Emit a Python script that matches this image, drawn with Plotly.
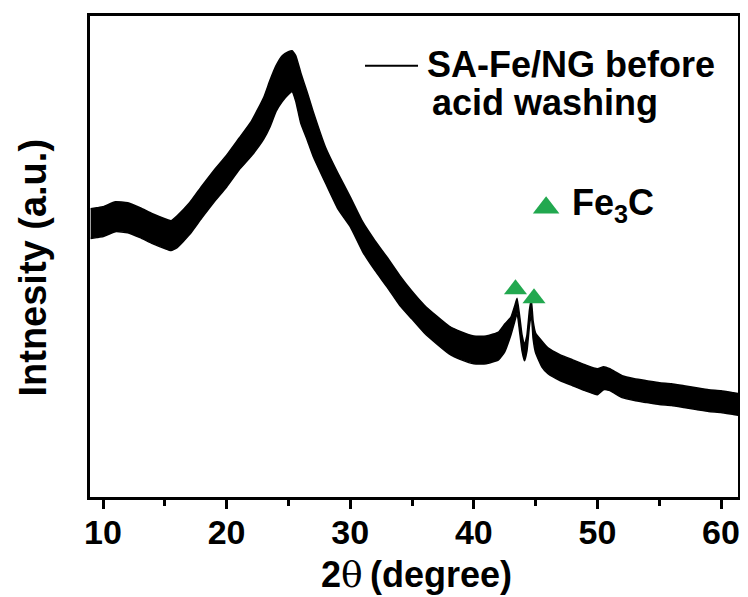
import plotly.graph_objects as go

# --- data (intensity in arbitrary units) ---
two_theta = [9.0, 9.5, 10, 11, 12, 13, 14, 15, 15.5, 16,
             17, 18, 19, 20, 21, 22, 23, 23.5, 24, 24.5,
             25, 25.3, 25.6, 26, 26.5, 27, 28, 29, 30, 31,
             32, 33, 34, 35, 36, 37, 38, 39, 40, 41,
             42, 42.5, 43, 43.3, 43.5, 43.7, 43.9, 44.1, 44.3, 44.5,
             44.65, 44.8, 45.0, 45.5, 46, 47, 48, 49, 50, 50.5,
             51, 52, 53, 54, 55, 56, 57, 58, 59, 60,
             61, 62]
band_top = [290, 291, 292, 297, 296, 291, 285, 280, 278, 283,
            296, 313, 329, 344, 361, 378, 402, 419, 434, 444,
            448, 449, 444, 427, 408, 388, 352, 326, 302, 277,
            258, 241, 223, 207, 193, 182, 172, 166, 162, 162,
            166, 174, 181, 192, 200, 183, 163, 153, 163, 188,
            199, 177, 165, 157, 150, 143, 138, 133, 129, 131,
            129, 122, 119, 117, 115, 114, 112, 110, 108, 107,
            105, 103]
band_bottom = [260, 261, 262, 267, 266, 261, 255, 250, 248, 251,
               264, 281, 297, 312, 329, 343, 360, 372, 388, 398,
               405, 408, 398, 376, 360, 343, 316, 290, 272, 247,
               228, 211, 193, 179, 165, 154, 144, 138, 134, 134,
               138, 146, 163, 176, 185, 167, 147, 137, 147, 172,
               184, 159, 145, 131, 124, 117, 112, 107, 103, 108,
               107, 100, 97, 95, 93, 92, 90, 88, 86, 85,
               83, 81]

fe3c_x = [43.37, 44.87]
fe3c_y = [209, 200]
fe3c_key_x = [45.85]
fe3c_key_y = [291]

x_ticks = [10, 20, 30, 40, 50, 60]
x_minor_ticks = [15, 25, 35, 45, 55]
series_name = "SA-Fe/NG before acid washing"

GREEN = "#22A84F"
FONT = "Liberation Sans, Arial, sans-serif"

fig = go.Figure()
fig.add_trace(go.Scatter(x=two_theta, y=band_bottom, mode="lines", showlegend=False,
                         line=dict(color="black", width=1.5, shape="spline", smoothing=0.4),
                         hoverinfo="skip"))
fig.add_trace(go.Scatter(x=two_theta, y=band_top, mode="lines", name=series_name,
                         fill="tonexty", fillcolor="black", showlegend=False,
                         line=dict(color="black", width=1.5, shape="spline", smoothing=0.4)))
fig.add_trace(go.Scatter(x=fe3c_x, y=fe3c_y, mode="markers", name="Fe3C",
                         marker=dict(symbol="triangle-up", size=20, color=GREEN),
                         showlegend=False))
fig.add_trace(go.Scatter(x=fe3c_key_x, y=fe3c_key_y, mode="markers", showlegend=False,
                         marker=dict(symbol="triangle-up", size=23, color=GREEN)))

fig.update_layout(
    width=740, height=589,
    margin=dict(l=82, r=10, t=5, b=100),
    paper_bgcolor="white", plot_bgcolor="white",
    font=dict(family=FONT, color="black"),
    xaxis=dict(range=[8.948, 61.374], tickvals=x_ticks, ticktext=[str(v) for v in x_ticks],
               ticks="outside", ticklen=9, tickwidth=3, tickcolor="black",
               ticklabelstandoff=-6,
               tickfont=dict(family=FONT, size=34, weight="bold", color="black"),
               showline=True, linewidth=3, linecolor="black", mirror=True,
               showgrid=False, zeroline=False,
               minor=dict(tickvals=x_minor_ticks, ticks="outside", ticklen=6,
                          tickwidth=3, tickcolor="black")),
    yaxis=dict(range=[0, 484], showticklabels=False, ticks="",
               showline=True, linewidth=3, linecolor="black", mirror=True,
               showgrid=False, zeroline=False),
)

# legend line sample
fig.add_shape(type="line", xref="paper", yref="paper", x0=0.4244, x1=0.5062,
              y0=0.8967, y1=0.8967, line=dict(color="black", width=2))
fig.add_annotation(xref="paper", yref="paper", x=0.517, y=0.852, xanchor="left",
                   yanchor="bottom", showarrow=False, text="<b>SA-Fe/NG before</b>",
                   font=dict(family=FONT, size=36, color="black"))
fig.add_annotation(xref="paper", yref="paper", x=0.5247, y=0.774, xanchor="left",
                   yanchor="bottom", showarrow=False, text="<b>acid washing</b>",
                   font=dict(family=FONT, size=36, color="black"))
fig.add_annotation(xref="paper", yref="paper", x=0.7407, y=0.608, xanchor="left",
                   yanchor="middle", showarrow=False, text="<b>Fe<sub>3</sub>C</b>",
                   font=dict(family=FONT, size=36, color="black"))
# axis titles
fig.add_annotation(xref="paper", yref="paper", x=0.5046, y=-0.161, xanchor="center",
                   yanchor="middle", showarrow=False,
                   text="<b>2</b><span style='font-family:DejaVu Serif'>θ</span>\u2009<b>(degree)</b>",
                   font=dict(family=FONT, size=36, color="black"))
fig.add_annotation(xref="paper", yref="paper", x=-0.088, y=0.477, xanchor="center",
                   yanchor="middle", showarrow=False, textangle=-90,
                   text="<b>Intnesity (a.u.)</b>",
                   font=dict(family=FONT, size=38, color="black"))

fig.write_html("out.html")
